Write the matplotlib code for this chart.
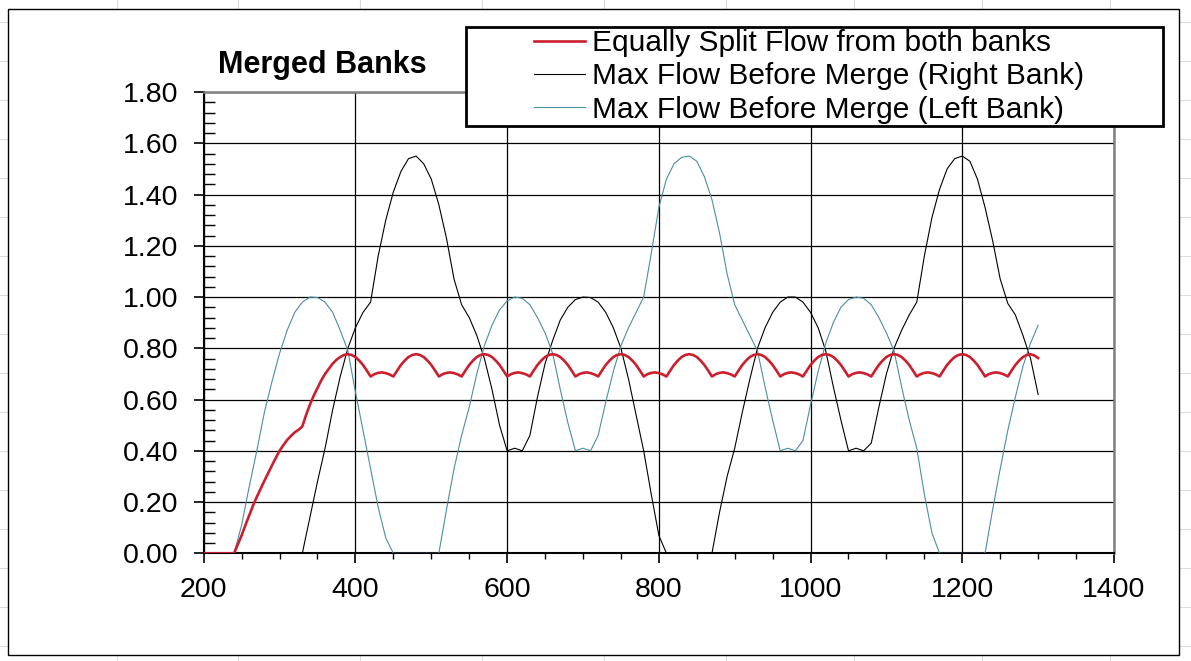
import numpy as np
import matplotlib
matplotlib.use('Agg')
import matplotlib.pyplot as plt
from matplotlib.ticker import MultipleLocator, FormatStrFormatter
from matplotlib.patches import Rectangle
from matplotlib.lines import Line2D

plt.rcParams['font.family'] = ['Liberation Sans', 'DejaVu Sans']

# x positions (chainage) of the sampled points
x_banks = np.arange(200, 1310, 10)
x_split = np.arange(200, 1305, 5)

left_bank = [0, 0, 0, 0, 0, 0.11, 0.26, 0.40, 0.55, 0.67,
             0.78, 0.87, 0.94, 0.98, 1.00, 0.998, 0.98, 0.94, 0.87, 0.79,
             0.63, 0.48, 0.33, 0.18, 0.06, 0, 0, 0, 0, 0,
             0, 0, 0.17, 0.33, 0.46, 0.57, 0.70, 0.81, 0.89, 0.95,
             0.985, 1.00, 0.995, 0.97, 0.92, 0.86, 0.78, 0.64, 0.51, 0.40,
             0.41, 0.40, 0.46, 0.59, 0.71, 0.81, 0.88, 0.94, 1.00, 1.17,
             1.35, 1.46, 1.52, 1.545, 1.55, 1.53, 1.47, 1.38, 1.25, 1.09,
             0.97, 0.91, 0.85, 0.79, 0.65, 0.52, 0.40, 0.41, 0.40, 0.44,
             0.58, 0.71, 0.82, 0.90, 0.96, 0.99, 1.00, 0.995, 0.97, 0.92,
             0.86, 0.79, 0.65, 0.52, 0.41, 0.23, 0.08, 0, 0, 0,
             0, 0, 0, 0, 0.17, 0.33, 0.48, 0.61, 0.73, 0.82,
             0.89]

right_bank = [0, 0, 0, 0, 0, 0, 0, 0, 0, 0,
              0, 0, 0, 0, 0.14, 0.28, 0.41, 0.56, 0.69, 0.80,
              0.88, 0.94, 0.98, 1.16, 1.30, 1.41, 1.49, 1.54, 1.55, 1.52,
              1.46, 1.36, 1.23, 1.07, 0.97, 0.92, 0.85, 0.76, 0.64, 0.50,
              0.40, 0.41, 0.40, 0.46, 0.61, 0.74, 0.83, 0.91, 0.96, 0.99,
              1.00, 0.998, 0.98, 0.94, 0.88, 0.80, 0.68, 0.54, 0.40, 0.23,
              0.07, 0, 0, 0, 0, 0, 0, 0, 0.16, 0.30,
              0.41, 0.55, 0.68, 0.80, 0.88, 0.94, 0.98, 1.00, 1.00, 0.98,
              0.94, 0.88, 0.79, 0.65, 0.52, 0.40, 0.41, 0.40, 0.43, 0.57,
              0.70, 0.80, 0.87, 0.93, 0.98, 1.16, 1.31, 1.42, 1.50, 1.54,
              1.55, 1.53, 1.46, 1.35, 1.22, 1.07, 0.975, 0.93, 0.85, 0.76,
              0.62]

split_flow = [0, 0, 0, 0, 0, 0, 0, 0, 0,
              0.035, 0.07, 0.11, 0.148, 0.186, 0.22, 0.252, 0.283, 0.313, 0.343,
              0.372, 0.40, 0.422, 0.442, 0.458, 0.472, 0.482, 0.495, 0.54, 0.58,
              0.615, 0.645, 0.675, 0.70, 0.72, 0.74, 0.755, 0.766, 0.774, 0.777,
              # 395 - 480
              0.774, 0.766, 0.752, 0.735, 0.713, 0.690, 0.699, 0.704, 0.706,
              0.703, 0.698, 0.690, 0.713, 0.735, 0.752, 0.766, 0.774, 0.777,
              # 485 - 570
              0.774, 0.766, 0.752, 0.735, 0.713, 0.690, 0.699, 0.704, 0.706,
              0.703, 0.698, 0.690, 0.713, 0.735, 0.752, 0.766, 0.774, 0.777,
              # 575 - 660
              0.774, 0.766, 0.752, 0.735, 0.713, 0.690, 0.699, 0.704, 0.706,
              0.703, 0.698, 0.690, 0.713, 0.735, 0.752, 0.766, 0.774, 0.777,
              # 665 - 750
              0.774, 0.766, 0.752, 0.735, 0.713, 0.690, 0.699, 0.704, 0.706,
              0.703, 0.698, 0.690, 0.713, 0.735, 0.752, 0.766, 0.774, 0.777,
              # 755 - 840
              0.774, 0.766, 0.752, 0.735, 0.713, 0.690, 0.699, 0.704, 0.706,
              0.703, 0.698, 0.690, 0.713, 0.735, 0.752, 0.766, 0.774, 0.777,
              # 845 - 930
              0.774, 0.766, 0.752, 0.735, 0.713, 0.690, 0.699, 0.704, 0.706,
              0.703, 0.698, 0.690, 0.713, 0.735, 0.752, 0.766, 0.774, 0.777,
              # 935 - 1020
              0.774, 0.766, 0.752, 0.735, 0.713, 0.690, 0.699, 0.704, 0.706,
              0.703, 0.698, 0.690, 0.713, 0.735, 0.752, 0.766, 0.774, 0.777,
              # 1025 - 1110
              0.774, 0.766, 0.752, 0.735, 0.713, 0.690, 0.699, 0.704, 0.706,
              0.703, 0.698, 0.690, 0.713, 0.735, 0.752, 0.766, 0.774, 0.777,
              # 1115 - 1200
              0.774, 0.766, 0.752, 0.735, 0.713, 0.690, 0.699, 0.704, 0.706,
              0.703, 0.698, 0.690, 0.713, 0.735, 0.752, 0.766, 0.774, 0.777,
              # 1205 - 1290
              0.774, 0.766, 0.752, 0.735, 0.713, 0.690, 0.699, 0.704, 0.706,
              0.703, 0.698, 0.690, 0.713, 0.735, 0.752, 0.766, 0.774, 0.777,
              # 1295 - 1300
              0.772, 0.762]

labels = ['Equally Split Flow from both banks',
          'Max Flow Before Merge (Right Bank)',
          'Max Flow Before Merge (Left Bank)']

red = '#CC1F2D'
teal = '#4A8FA3'

fig = plt.figure(figsize=(11.91, 6.61), dpi=100)
W, H = 1191.0, 661.0

# faint spreadsheet cells behind the chart
for cx in [117, 238, 360, 482, 604, 726, 854, 982, 1110]:
    fig.add_artist(Line2D([cx / W, cx / W], [0, 1], color='#dcdcdc', lw=0.8, zorder=-3))
for cy in [22, 61, 100, 139, 178, 217, 256, 295, 334, 373, 412, 451, 490, 529, 568, 607, 646]:
    fig.add_artist(Line2D([0, 1], [1 - cy / H, 1 - cy / H], color='#dcdcdc', lw=0.8, zorder=-3))

# chart area
fig.add_artist(Rectangle((8 / W, 1 - 655 / H), 1171 / W, 646 / H, facecolor='white',
                         edgecolor='black', lw=1.0, transform=fig.transFigure, zorder=-2))

ax = fig.add_axes([203.7 / W, 1 - 553.3 / H, 910.3 / W, 461.3 / H])
ax.set_facecolor('white')

ax.plot(x_split, split_flow, color=red, lw=1.9, label=labels[0], zorder=4)
ax.plot(x_banks, right_bank, color='black', lw=0.8, label=labels[1], zorder=3)
ax.plot(x_banks, left_bank, color=teal, lw=0.8, label=labels[2], zorder=3)

ax.set_xlim(200, 1400)
ax.set_ylim(0, 1.80)
ax.xaxis.set_major_locator(MultipleLocator(200))
ax.xaxis.set_minor_locator(MultipleLocator(50))
ax.yaxis.set_major_locator(MultipleLocator(0.2))
ax.yaxis.set_minor_locator(MultipleLocator(0.04))
ax.yaxis.set_major_formatter(FormatStrFormatter('%.2f'))

ax.grid(True, which='major', color='black', lw=0.9)
ax.set_axisbelow(True)

for s in ['left', 'bottom']:
    ax.spines[s].set_color('black')
    ax.spines[s].set_linewidth(1.5)
for s in ['top', 'right']:
    ax.spines[s].set_color('#808080')
    ax.spines[s].set_linewidth(1.8)

ax.tick_params(axis='y', which='major', direction='out', length=7.5, width=1.2,
               labelsize=20.5, pad=11)
ax.tick_params(axis='y', which='minor', direction='in', length=8, width=1.0)
ax.tick_params(axis='x', which='major', direction='out', length=7, width=1.2,
               labelsize=20.5, pad=10)
ax.tick_params(axis='x', which='minor', direction='out', length=4, width=1.0)

# first x label sits right of the axis, as in the original
fig.canvas.draw()
ax.get_xticklabels()[0].set_horizontalalignment('left')

# title
fig.text(322.6 / W, 1 - 73.5 / H, 'Merged Banks', fontsize=22, fontweight='bold',
         ha='center', va='baseline')

# legend box
fig.add_artist(Rectangle((466 / W, 1 - 126 / H), 697 / W, 99 / H, facecolor='white',
                         edgecolor='black', lw=2.0, transform=fig.transFigure, zorder=4))
handles, lbls = ax.get_legend_handles_labels()
leg = fig.legend(handles, lbls, loc='upper left', bbox_to_anchor=(534 / W, 1 - 29 / H),
                 bbox_transform=fig.transFigure, frameon=False, fontsize=21.5,
                 borderpad=0, borderaxespad=0, handlelength=1.7, handletextpad=0.25,
                 labelspacing=0.18)
leg.set_zorder(5)

fig.savefig('out.png', dpi=100, facecolor='white')
